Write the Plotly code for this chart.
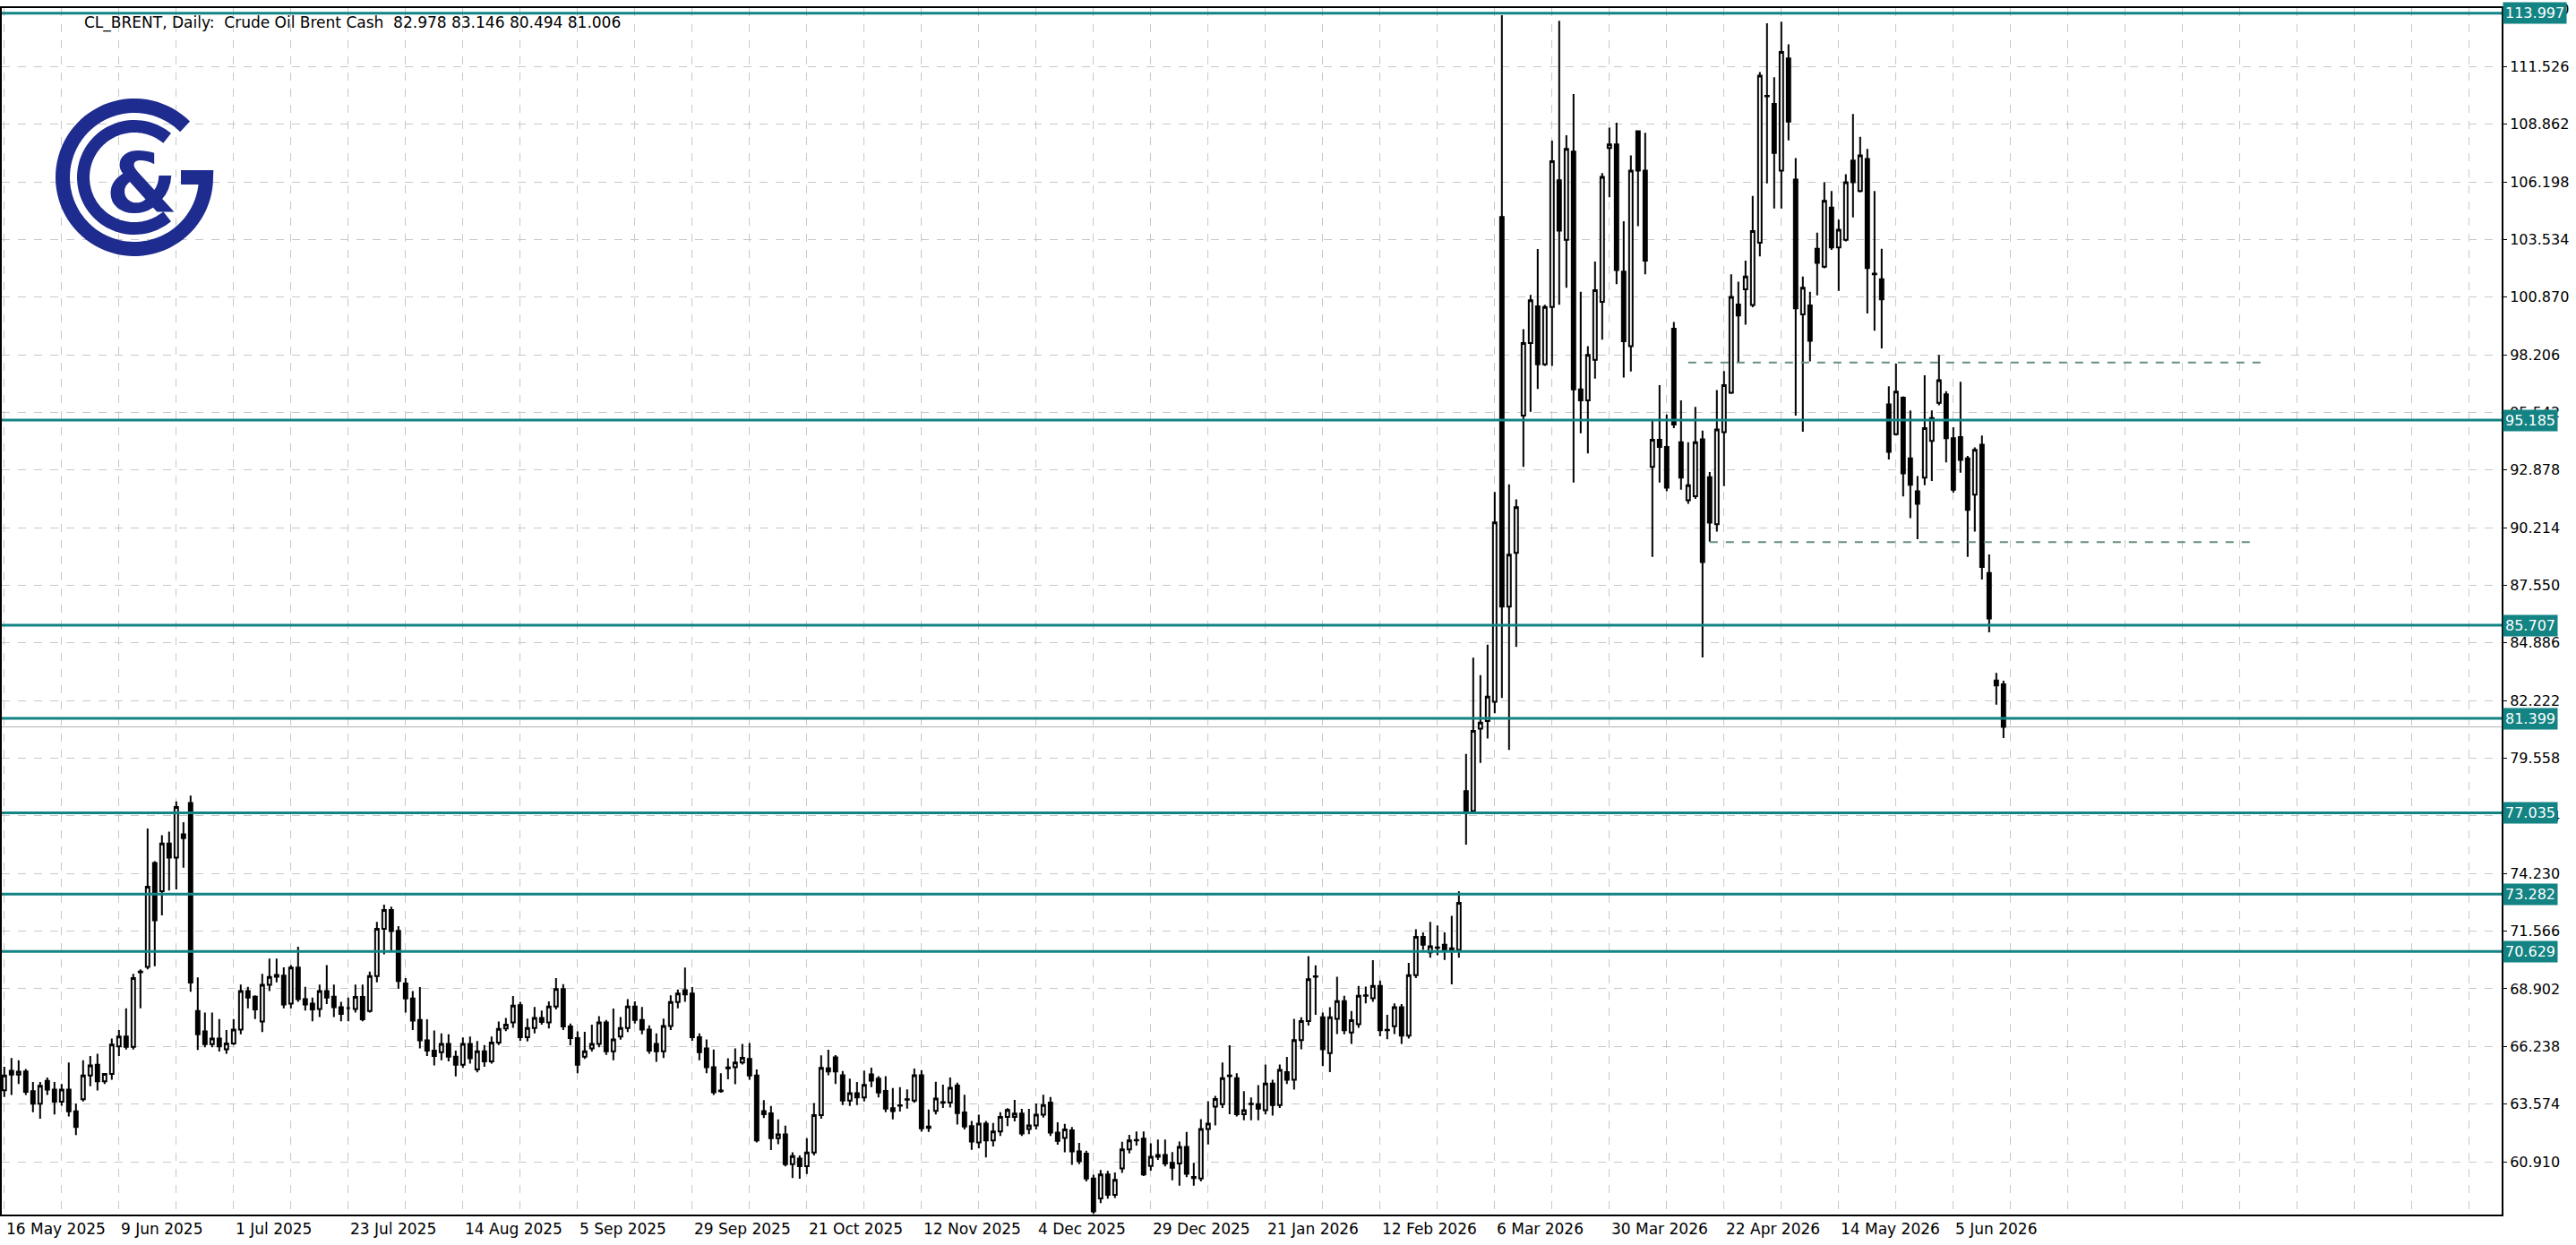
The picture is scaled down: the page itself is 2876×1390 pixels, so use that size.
import numpy as np
import pandas as pd
import plotly.graph_objects as go

# ---------------- data ----------------
OPEN = [
    64.21, 65.11, 64.94, 65.08, 64.17, 63.59, 64.65, 64.24, 63.69, 64.24,
    63.24, 63.80, 64.90, 65.39, 64.63, 64.97, 66.24, 66.70, 66.22, 69.67,
    69.92, 74.72, 73.41, 75.62, 74.97, 76.04, 77.49, 67.88, 66.94, 66.35,
    66.60, 66.11, 66.38, 67.02, 68.80, 68.54, 67.39, 69.09, 69.46, 69.51,
    68.22, 69.88, 68.43, 68.22, 67.97, 68.80, 68.54, 68.05, 68.01, 67.97,
    68.53, 67.88, 69.49, 71.68, 72.54, 71.58, 69.15, 68.46,
    67.46, 66.52, 66.05, 65.97, 66.36, 65.77, 65.39, 66.36, 65.18, 66.01,
    65.55, 66.42, 67.07, 67.35, 68.15, 66.67, 67.09, 67.56, 67.35, 68.08,
    68.89, 67.16, 66.63, 65.77, 66.15, 66.36, 67.35, 66.01, 66.70, 67.09,
    68.08, 67.46, 67.02, 66.36, 66.01, 67.18, 68.29, 68.84, 68.68, 66.67,
    66.15, 65.28, 64.17, 65.23, 65.28, 65.50, 65.66, 64.90, 63.25, 63.15,
    62.00, 62.17, 60.80, 61.06, 60.71, 61.34, 63.07,
    65.23, 65.74, 64.91, 63.74, 64.08, 63.88, 64.95, 64.75, 64.18, 63.39,
    63.50, 63.78, 63.74, 64.91, 62.47, 63.26, 63.64, 63.64, 64.43, 63.19,
    62.56, 61.80, 62.67, 61.90, 62.31, 62.98, 62.98, 63.14, 62.42, 62.59,
    63.09, 63.64, 62.26, 62.01, 62.36, 61.39, 61.28, 60.14, 59.22, 60.32,
    59.38, 60.60, 61.48, 61.90, 61.98, 60.72, 61.14, 61.22, 60.86, 60.83,
    61.60, 60.21, 60.14, 62.42, 63.46,
    63.57, 64.87, 64.77, 63.11, 63.57, 63.57, 63.29, 64.52, 63.53, 65.05,
    64.70, 66.53, 67.41, 69.46, 67.59, 65.93, 67.52, 68.33, 66.88, 67.27,
    68.58, 68.47, 69.04, 66.99, 67.17, 68.05, 66.74, 69.53, 71.30, 70.59,
    70.80, 70.94, 70.66, 70.70, 78.04, 77.12, 80.93, 81.28, 82.17, 104.57,
    86.57, 89.05, 95.39, 98.75, 100.45, 97.76, 100.41, 106.27,
    103.52, 107.60, 96.61, 96.10, 97.97, 100.65, 107.76, 107.93, 102.05, 98.60,
    108.54, 106.72, 93.02, 94.28, 93.95, 99.41, 94.16, 91.48, 91.67, 94.30,
    92.55, 90.38, 94.63, 96.45, 100.53, 101.23, 100.51, 103.38, 110.15, 109.80,
    106.72, 111.90, 106.30, 100.07, 100.49, 103.10, 102.28, 105.01, 103.17, 103.52,
    107.18, 105.78, 107.25, 101.93, 101.70, 95.91, 94.54, 96.22, 93.42, 91.90,
    92.53, 94.23, 95.98, 96.38, 94.35, 94.40, 93.42, 91.74, 94.05, 88.12,
    83.15, 82.978,
]
HIGH = [
    65.3, 65.7, 65.6, 65.2, 64.6, 64.6, 64.8, 64.6, 64.5, 65.5,
    63.6, 65.6, 65.8, 65.9, 65.0, 66.6, 67.0, 68.0, 69.6, 69.8,
    76.31, 74.8, 76.0, 76.17, 77.56, 76.6, 77.83, 69.43, 67.8, 67.8,
    67.5, 67.0, 67.5, 69.1, 69.0, 68.6, 69.60, 70.3, 70.3, 69.9,
    70.0, 70.85, 69.0, 68.5, 69.1, 70.0, 69.1, 68.3, 68.5, 69.1,
    69.1, 69.7, 72.0, 72.79, 72.7, 71.8, 69.4, 68.8,
    68.98, 67.49, 66.98, 66.84, 66.80, 66.05, 66.66, 66.70, 66.49, 66.30,
    66.70, 67.39, 67.56, 68.57, 68.30, 67.53, 68.06, 67.90, 68.32, 69.40,
    69.12, 67.30, 66.94, 66.91, 67.25, 67.64, 67.46, 67.99, 67.60, 68.43,
    68.32, 68.06, 67.21, 66.84, 67.53, 68.60, 68.87, 69.88, 68.98, 66.84,
    66.56, 66.10, 65.00, 65.69, 66.15, 66.36, 66.40, 65.18, 63.76, 63.49,
    62.87, 62.58, 61.35, 61.20, 62.00, 63.62, 65.83,
    66.09, 65.84, 65.10, 64.75, 64.60, 65.12, 65.26, 64.87, 64.87, 64.32,
    64.36, 64.26, 65.22, 65.15, 63.32, 64.61, 64.47, 64.80, 64.57, 64.01,
    62.80, 63.09, 62.80, 62.70, 63.20, 63.39, 63.77, 63.35, 63.35, 63.60,
    64.01, 63.90, 62.73, 62.66, 62.52, 61.78, 61.42, 60.31, 60.53, 60.49,
    60.42, 61.83, 62.15, 62.31, 62.31, 61.76, 61.94, 61.94, 61.36, 61.84,
    62.29, 60.86, 62.88, 63.71, 63.95,
    65.50, 66.29, 65.00, 64.17, 63.88, 64.45, 65.40, 64.70, 65.40, 65.76,
    67.52, 67.59, 70.41, 69.99, 67.80, 68.05, 69.46, 68.58, 67.88, 69.04,
    69.01, 70.23, 69.28, 67.70, 68.23, 68.20, 70.10, 71.65, 71.51, 72.00,
    71.83, 71.51, 72.28, 73.41, 79.76, 84.21, 83.40, 84.81, 91.87, 113.90,
    92.22, 91.52, 99.39, 100.97, 103.09, 100.52, 108.10, 113.64,
    108.35, 110.26, 101.12, 98.60, 102.52, 106.60, 108.70, 108.93, 104.38, 107.42,
    108.58, 108.47, 95.17, 96.80, 95.45, 99.72, 96.10, 94.16, 95.80, 94.70,
    92.79, 96.57, 97.45, 101.93, 101.58, 102.56, 105.55, 111.27, 113.53, 111.03,
    113.60, 112.55, 107.30, 101.82, 101.12, 103.85, 106.18, 105.78, 104.45, 106.55,
    109.33, 108.28, 107.72, 105.78, 103.10, 96.75, 97.80, 96.29, 95.63, 92.60,
    97.26, 95.63, 98.20, 96.52, 94.86, 96.96, 93.53, 93.93, 94.47, 88.98,
    83.50, 83.146,
]
LOW = [
    63.9, 64.0, 64.5, 64.0, 63.2, 62.9, 64.0, 63.1, 63.5, 63.0,
    62.14, 63.7, 64.4, 64.2, 64.5, 64.7, 65.8, 66.1, 66.1, 68.0,
    69.8, 69.95, 72.3, 73.44, 73.5, 74.5, 68.77, 66.08, 66.2, 66.2,
    66.0, 65.9, 66.3, 66.8, 68.0, 67.5, 66.9, 68.8, 69.2, 68.0,
    68.0, 68.3, 67.9, 67.4, 67.6, 68.2, 67.6, 67.4, 67.4, 67.8,
    67.4, 67.8, 69.2, 70.5, 70.6, 68.9, 67.8, 67.0,
    66.15, 65.80, 65.36, 65.60, 65.55, 64.86, 65.25, 65.45, 65.04, 65.30,
    65.45, 66.30, 66.95, 67.10, 66.50, 66.47, 66.84, 67.25, 67.07, 67.95,
    67.00, 66.29, 65.00, 65.66, 66.00, 66.20, 65.85, 65.60, 66.55, 66.90,
    67.30, 66.80, 65.90, 65.53, 65.70, 67.00, 68.00, 68.30, 66.50, 65.60,
    65.00, 64.00, 64.10, 64.72, 64.49, 65.40, 64.70, 61.80, 62.93, 61.45,
    61.72, 60.70, 60.16, 60.13, 60.34, 61.20, 62.90,
    64.91, 64.50, 63.53, 63.49, 63.53, 63.70, 64.36, 63.88, 63.20, 62.87,
    63.23, 63.37, 63.63, 62.30, 62.29, 63.10, 63.40, 63.42, 62.63, 62.40,
    61.46, 61.53, 61.11, 61.62, 62.10, 62.56, 62.77, 62.10, 62.19, 62.40,
    62.95, 62.10, 61.70, 61.35, 60.77, 60.80, 60.00, 58.50, 59.00, 59.20,
    59.24, 60.40, 61.30, 61.66, 60.25, 60.50, 61.00, 60.70, 60.05, 59.80,
    60.20, 59.80, 60.00, 61.71, 62.59,
    63.40, 63.11, 63.00, 62.83, 62.83, 62.83, 63.10, 63.04, 63.40, 64.50,
    64.24, 66.11, 67.20, 67.70, 65.33, 65.05, 66.81, 66.80, 66.36, 67.10,
    68.23, 68.30, 66.71, 66.57, 66.81, 66.36, 66.60, 69.40, 70.70, 70.34,
    70.45, 70.24, 69.11, 70.34, 75.57, 77.00, 79.34, 80.47, 81.64, 82.34,
    79.94, 84.70, 93.03, 95.57, 96.63, 97.69, 97.69, 100.52,
    101.30, 92.30, 94.58, 93.65, 97.10, 98.90, 105.48, 101.47, 97.15, 97.43,
    104.15, 101.93, 88.86, 92.30, 91.90, 94.82, 91.97, 91.32, 91.55, 84.22,
    89.57, 90.03, 92.13, 96.40, 97.85, 99.60, 100.40, 102.75, 106.13, 104.97,
    104.97, 108.11, 95.40, 94.65, 97.90, 100.95, 102.20, 103.05, 101.16, 103.45,
    104.55, 105.71, 100.11, 99.32, 98.50, 93.37, 94.47, 91.66, 90.66, 89.68,
    92.18, 92.37, 95.87, 93.23, 91.83, 92.76, 88.86, 90.03, 87.82, 85.38,
    82.03, 80.494,
]
CLOSE = [
    64.90, 64.94, 65.07, 64.14, 63.59, 64.42, 64.24, 63.69, 64.24, 63.24,
    62.52, 64.90, 65.36, 64.63, 64.97, 66.33, 66.70, 66.22, 69.40, 69.70,
    73.62, 72.07, 75.62, 74.97, 77.31, 75.87, 69.19, 66.80, 66.35, 66.60,
    66.24, 66.38, 67.02, 68.80, 68.50, 67.95, 69.09, 69.45, 69.54, 68.18,
    69.88, 68.43, 68.18, 67.95, 68.80, 68.50, 68.05, 67.74, 68.01, 68.53,
    67.49, 69.49, 71.68, 72.54, 71.57, 69.26, 68.46, 67.43,
    66.52, 66.05, 65.80, 66.36, 65.77, 65.39, 66.36, 65.69, 66.01, 65.55,
    66.42, 67.05, 67.25, 68.13, 66.67, 67.09, 67.56, 67.37, 68.08, 68.89,
    67.16, 66.63, 65.39, 66.01, 66.36, 67.35, 66.01, 66.56, 67.09, 68.08,
    67.46, 67.02, 66.05, 66.01, 67.18, 68.29, 68.68, 68.64, 66.67, 65.97,
    65.28, 64.12, 64.20, 65.27, 65.50, 65.71, 64.90, 61.90, 63.11, 62.00,
    62.17, 60.80, 61.17, 60.71, 61.34, 63.07, 65.25,
    65.08, 65.08, 63.74, 64.08, 63.88, 64.46, 64.66, 64.11, 63.37, 63.25,
    63.52, 63.80, 64.91, 62.45, 62.54, 63.83, 63.66, 64.33, 63.16, 62.54,
    61.84, 62.67, 61.90, 62.31, 62.98, 63.30, 63.14, 62.22, 62.59, 63.09,
    63.53, 62.26, 61.87, 62.40, 61.39, 60.93, 60.14, 58.62, 60.32, 59.38,
    60.07, 61.48, 61.90, 61.92, 60.32, 61.14, 61.22, 60.83, 60.63, 61.60,
    60.35, 60.16, 62.42, 62.67, 63.81,
    64.77, 64.90, 63.11, 63.29, 63.59, 63.36, 64.52, 63.53, 65.16, 64.70,
    66.53, 67.41, 69.35, 69.48, 66.11, 67.59, 68.33, 66.99, 67.45, 68.58,
    68.60, 69.04, 66.99, 67.01, 68.05, 66.74, 69.53, 71.30, 70.94, 70.87,
    70.82, 70.70, 70.77, 72.88, 77.05, 80.82, 81.21, 82.41, 90.46, 86.57,
    88.97, 91.16, 98.75, 100.72, 97.76, 100.41, 107.15, 103.94,
    107.72, 96.61, 96.10, 98.20, 101.19, 106.43, 107.93, 102.12, 98.83, 106.72,
    106.72, 102.56, 94.28, 93.95, 92.06, 94.98, 92.53, 92.18, 94.16, 88.63,
    90.45, 94.75, 96.80, 100.88, 100.02, 101.82, 103.92, 111.10, 110.17, 107.53,
    112.20, 108.98, 100.35, 101.30, 98.85, 102.45, 105.32, 103.17, 103.98, 106.18,
    106.18, 107.42, 102.21, 101.96, 100.77, 93.72, 96.50, 92.72, 92.20, 91.32,
    94.82, 95.28, 97.03, 94.35, 91.97, 93.35, 91.04, 93.81, 88.40, 86.02,
    82.92, 81.006,
]
HOLIDAYS = ["2025-12-25", "2026-01-01", "2026-04-03"]
LEVELS = [113.997, 95.185, 85.707, 81.399, 77.035, 73.282, 70.629]
DASH_LEVELS = [97.85, 89.55]
DASH_FROM = [235, 238]
DASH_TO = [315, 314]
BID = 81.006
TICK_FIRST = 60.910
TICK_STEP = 2.664
TITLE = "CL_BRENT, Daily:  Crude Oil Brent Cash  82.978 83.146 80.494 81.006"

# ---------------- figure ----------------
N = len(CLOSE)
dates = pd.bdate_range("2025-05-16", periods=N, freq="C", holidays=HOLIDAYS)
x = np.arange(N)

W, H = 2876, 1390
ML, MR, MT, MB = 2, 83, 9, 34
PW, PH = W - ML - MR, H - MT - MB
TEAL = "#138383"
NAVY = "#1e2b8f"
FONT = "DejaVu Sans"

fig = go.Figure(go.Candlestick(
    x=x, open=OPEN, high=HIGH, low=LOW, close=CLOSE,
    increasing=dict(line=dict(color="black", width=2), fillcolor="white"),
    decreasing=dict(line=dict(color="black", width=2), fillcolor="black"),
    whiskerwidth=0, hoverinfo="skip", showlegend=False,
))

shapes = []
for lv in LEVELS:
    shapes.append(dict(type="line", xref="paper", yref="y", x0=0, x1=1, y0=lv, y1=lv,
                       line=dict(color=TEAL, width=3), layer="above"))
shapes.append(dict(type="line", xref="paper", yref="y", x0=0, x1=1, y0=BID, y1=BID,
                   line=dict(color="#b0b0b0", width=1), layer="below"))
for lv, a, b in zip(DASH_LEVELS, DASH_FROM, DASH_TO):
    shapes.append(dict(type="line", xref="x", yref="y", x0=a, x1=b, y0=lv, y1=lv,
                       line=dict(color="#6a8f7a", width=2, dash="dash"), layer="above"))

# logo (pixel geometry -> paper)
def P(px, py):
    return (px - ML) / PW, 1 - (py - MT) / PH

def arc(cx, cy, r, a0, a1, n=80):
    t = np.radians(np.linspace(a0, a1, n))
    pts = [P(cx + r * np.cos(v), cy - r * np.sin(v)) for v in t]
    return "M " + " L ".join(f"{u:.5f},{w:.5f}" for u, w in pts)

cx, cy = 150, 198
outer = arc(cx, cy, 80, 45, 360)
bx1, by1 = P(cx + 52, cy)
outer += f" L {bx1:.5f},{by1:.5f}"
shapes.append(dict(type="path", xref="paper", yref="paper", path=outer,
                   line=dict(color=NAVY, width=16)))
shapes.append(dict(type="path", xref="paper", yref="paper", path=arc(cx, cy, 57, 50, 310),
                   line=dict(color=NAVY, width=14)))

ann = []
lx, ly = P(158, 205)
ann.append(dict(xref="paper", yref="paper", x=lx, y=ly, text="<b>&</b>", showarrow=False,
                font=dict(family=FONT, size=92, color=NAVY),
                xanchor="center", yanchor="middle"))
tx, ty = P(92, 26)
ann.append(dict(xref="paper", yref="paper", x=tx, y=ty, text=TITLE, showarrow=False,
                font=dict(family=FONT, size=17, color="black"),
                xanchor="left", yanchor="middle"))
for lv in LEVELS:
    ann.append(dict(xref="paper", yref="y", x=1, xshift=1, y=lv, text=f"{lv:.3f}",
                    showarrow=False, xanchor="left", yanchor="middle", bgcolor=TEAL,
                    font=dict(family=FONT, size=16, color="white"), borderpad=2))
for i in range(0, N, 16):
    d = dates[i]
    ann.append(dict(xref="x", yref="paper", x=i, y=0, yshift=-4, text=f"{d.day} {d.strftime('%b %Y')}",
                    showarrow=False, xanchor="left", yanchor="top",
                    font=dict(family=FONT, size=17, color="black")))

ticks = [round(TICK_FIRST + k * TICK_STEP, 3) for k in range(21)]
fig.update_layout(
    width=W, height=H, margin=dict(l=ML, r=MR, t=MT, b=MB, autoexpand=False),
    paper_bgcolor="white", plot_bgcolor="white",
    shapes=shapes, annotations=ann, showlegend=False,
    xaxis=dict(range=[-0.35, (PW / 8.0) - 0.35], rangeslider=dict(visible=False),
               tickvals=list(range(0, 360, 8)), showticklabels=False,
               showgrid=True, gridcolor="#c8c8c8", griddash="dash", gridwidth=1,
               showline=True, mirror=True, linecolor="black", linewidth=2, zeroline=False),
    yaxis=dict(side="right", range=[58.47, 114.23], tickvals=ticks,
               ticktext=[f"{t:.3f}" for t in ticks],
               tickfont=dict(family=FONT, size=16, color="black"),
               showgrid=True, gridcolor="#c8c8c8", griddash="dash", gridwidth=1,
               showline=True, mirror=True, linecolor="black", linewidth=2, zeroline=False,
               ticks="outside", ticklen=4, tickcolor="black"),
)
fig.write_html("out.html", config={"displayModeBar": False},
               post_script="document.body.style.margin='0';")
